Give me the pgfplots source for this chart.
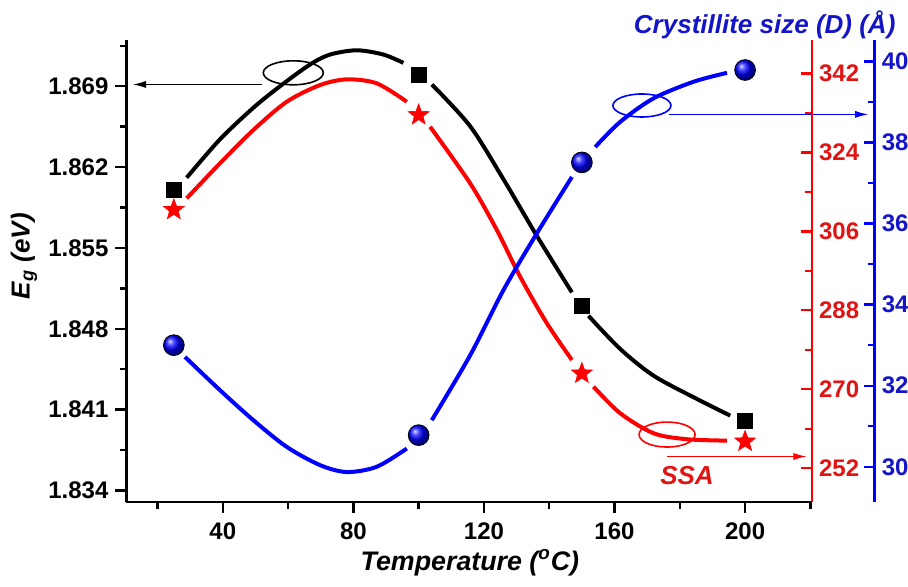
\documentclass[border=0pt]{standalone}
\usepackage{pgfplots}
\pgfplotsset{compat=1.18}
\usepackage{fontspec}
\setmainfont{Liberation Sans}
\usetikzlibrary{arrows.meta}
\definecolor{myred}{RGB}{255,0,0}
\definecolor{myblue}{RGB}{0,0,255}
\definecolor{redtxt}{RGB}{225,20,20}
\definecolor{bluetxt}{RGB}{20,20,200}

\pgfdeclareplotmark{fstar}{%
  \pgfpathmoveto{\pgfpointpolar{90}{\pgfplotmarksize}}%
  \pgfpathlineto{\pgfpointpolar{126}{0.42\pgfplotmarksize}}%
  \pgfpathlineto{\pgfpointpolar{162}{\pgfplotmarksize}}%
  \pgfpathlineto{\pgfpointpolar{198}{0.42\pgfplotmarksize}}%
  \pgfpathlineto{\pgfpointpolar{234}{\pgfplotmarksize}}%
  \pgfpathlineto{\pgfpointpolar{270}{0.42\pgfplotmarksize}}%
  \pgfpathlineto{\pgfpointpolar{306}{\pgfplotmarksize}}%
  \pgfpathlineto{\pgfpointpolar{342}{0.42\pgfplotmarksize}}%
  \pgfpathlineto{\pgfpointpolar{18}{\pgfplotmarksize}}%
  \pgfpathlineto{\pgfpointpolar{54}{0.42\pgfplotmarksize}}%
  \pgfpathclose
  \pgfusepathqfillstroke
}

\pgfplotsset{
  base/.style={
    scale only axis, width=342.75pt, height=231pt,
    xmin=10.5, xmax=220.5,
    /pgf/number format/assume math mode=true,
    tick label style={font=\fontsize{12}{14}\selectfont\bfseries},
    major tick length=5.5pt, minor tick length=3.3pt,
    at={(0,0)}, anchor=south west,
  },
}

\begin{document}
\begin{tikzpicture}
\path[use as bounding box] (-63.25pt,-42pt) rectangle (390.75pt,251pt);

% ---------- Eg (black, left axis) ----------
\begin{axis}[base,
  axis x line*=bottom, axis y line*=left,
  axis line style={line width=1.3pt, -},
  tick style={black, line width=1.2pt},
  tick align=outside,
  ymin=1.833, ymax=1.873,
  xtick={40,80,120,160,200}, minor xtick={20,60,100,140,180,220},
  ytick={1.834,1.841,1.848,1.855,1.862,1.869},
  minor ytick={1.8375,1.8445,1.8515,1.8585,1.8655,1.8725},
  yticklabel style={/pgf/number format/fixed, /pgf/number format/precision=3, /pgf/number format/fixed zerofill},
  xticklabel style={yshift=-1.5pt},
  xlabel={Temperature (\textsuperscript{o}C)},
  ylabel={E\textsubscript{g} (eV)},
  every axis x label/.style={at={(axis description cs:0.501,-0.131)}, anchor=center, font=\fontsize{13.4}{15}\selectfont\bfseries\itshape},
  every axis y label/.style={at={(axis description cs:-0.1495,0.532)}, rotate=90, anchor=center, font=\fontsize{13}{15}\selectfont\bfseries\itshape},
  clip=false,
]
\addplot[black, line width=2pt, smooth] coordinates {(28.93,1.86108)(39.14,1.86440)(49.35,1.86713)(57.53,1.86900)(66.73,1.87088)(72.86,1.87174)(81.04,1.87211)(89.20,1.87174)(95.33,1.87102)};
\addplot[black, line width=2pt, smooth] coordinates {(104.03,1.86915)(115.77,1.86554)(125.98,1.86094)(136.21,1.85604)(146.94,1.85115)};
\addplot[black, line width=2pt, smooth] coordinates {(152.03,1.84912)(161.75,1.84625)(171.95,1.84394)(185.26,1.84192)(195.46,1.84048)};
\addplot[only marks, mark=square*, mark size=3.7pt, black] coordinates {(25,1.8600)(100,1.8700)(150,1.8500)(200,1.8400)};

% annotations
\draw[line width=0.8pt] (axis cs:61.6,1.87016) ellipse [x radius=15pt, y radius=6pt];
\draw[line width=0.5pt, -{Latex[length=6.5pt,width=3.5pt]}] (axis cs:51.9,1.86915) -- (axis cs:12.5,1.86915);
\draw[myblue, line width=0.8pt] (axis cs:168.4,1.86733) ellipse [x radius=14.5pt, y radius=5.75pt];
\draw[myblue, line width=0.5pt, -{Latex[length=6.5pt,width=3.5pt]}] (axis cs:176.6,1.86656) -- (axis cs:237.7,1.86656);
\draw[myred, line width=0.8pt] (axis cs:176.1,1.83884) ellipse [x radius=14pt, y radius=6.25pt];
\draw[myred, line width=0.5pt, -{Latex[length=6.5pt,width=3.5pt]}] (axis cs:176.1,1.83694) -- (axis cs:218.8,1.83694);
\node[redtxt, font=\fontsize{13}{15}\selectfont\bfseries\itshape] at (axis cs:182.2,1.8353) {SSA};
\end{axis}

% ---------- SSA (red, first right axis) ----------
\begin{axis}[base,
  axis y line*=right, hide x axis,
  ymin=244.3, ymax=349.6,
  ytick={252,270,288,306,324,342}, minor ytick={261,279,297,315,333},
  tick align=inside,
  y axis line style={myred, line width=1.3pt, -},
  tick style={myred, line width=1.2pt},
  yticklabel style={redtxt},
]
\addplot[myred, line width=2pt, smooth] coordinates {(28.93,313.52)(39.14,321.49)(49.35,329.08)(59.59,335.53)(69.79,339.33)(77.98,340.63)(87.17,339.72)(96.37,335.53)};
\addplot[myred, line width=2pt, smooth] coordinates {(103.51,329.83)(115.77,316.94)(123.95,306.29)(131.09,295.65)(139.28,285.04)(146.94,276.68)};
\addplot[myred, line width=2pt, smooth] coordinates {(153.56,270.59)(161.75,264.53)(171.95,259.97)(182.19,258.61)(194.45,258.29)};
\addplot[only marks, mark=fstar, mark size=5.5pt, myred, mark options={fill=myred, line width=0.3pt}] coordinates {(25,310.9)(100,332.5)(150,273.6)(200,258.1)};
\end{axis}

% ---------- Crystallite size (blue data) ----------
\begin{axis}[base,
  hide x axis, hide y axis,
  ymin=29.13, ymax=40.53,
]
\addplot[myblue, line width=2pt, smooth] coordinates {(28.41,32.71)(39.14,31.89)(49.35,31.15)(59.59,30.49)(69.79,30.04)(77.98,29.87)(87.17,30.00)(96.37,30.45)};
\addplot[myblue, line width=2pt, smooth] coordinates {(104.03,31.15)(115.77,32.75)(125.98,34.36)(136.21,35.76)(146.94,37.15)};
\addplot[myblue, line width=2pt, smooth] coordinates {(154.09,37.89)(161.75,38.51)(171.95,39.09)(184.21,39.50)(194.45,39.72)};
\addplot[only marks, mark=ball, mark size=5.2pt, mark options={ball color=myblue}] coordinates {(25,33.0)(100,30.78)(150,37.51)(200,39.79)};
\end{axis}

% ---------- blue y axis (offset) ----------
\begin{axis}[base, at={(31.35pt,0)},
  axis y line*=right, hide x axis,
  ymin=29.13, ymax=40.53,
  ytick={30,32,34,36,38,40}, minor ytick={31,33,35,37,39},
  tick align=inside,
  y axis line style={myblue, line width=1.3pt, -},
  tick style={myblue, line width=1.2pt},
  yticklabel style={bluetxt},
]
\end{axis}

\node[anchor=east, bluetxt, font=\fontsize{13}{15}\selectfont\bfseries\itshape] at (388pt,238.5pt) {Crystillite size (D) (Å)};
\end{tikzpicture}
\end{document}
